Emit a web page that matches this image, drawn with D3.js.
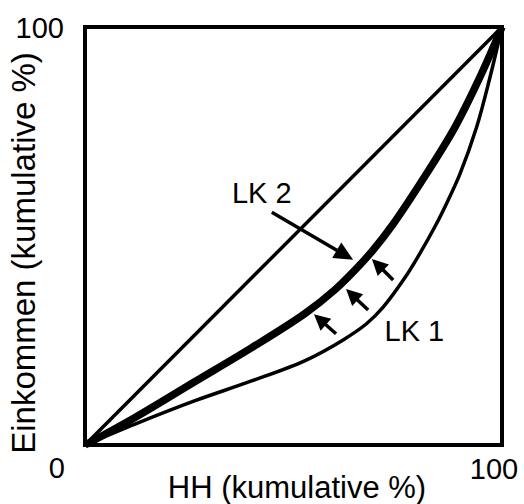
<!DOCTYPE html>
<html>
<head>
<meta charset="utf-8">
<script src="https://cdn.jsdelivr.net/npm/d3@7"></script>
<style>
  html, body { margin: 0; padding: 0; background: #fff; }
  svg { display: block; font-family: "Liberation Sans", Arial, sans-serif; }
</style>
</head>
<body>
<svg id="chart" width="524" height="504"></svg>
<script>
// ---- data ----
const equality = [[0, 0], [100, 100]];
const lk1 = [[0,0],[12,5],[26.4,10.6],[39.6,15.2],[52.8,20.2],[62,25.2],[67.5,29],[71.5,33],[76.7,40],[80,45.3],[83.9,52.2],[87,58.4],[89.9,64.8],[93.9,76],[97,87.5],[100,100]];
const lk2 = [[0,0],[12,6.6],[26.4,15.2],[40,23.3],[52.8,31.5],[60,37.2],[64.5,41.6],[68.8,46.3],[74,53],[81,63.5],[88.7,76],[94.7,88],[100,100]];
const tickLabels = ["0", "100"];
const curveLabels = [{text: "LK 2", x: 42.4, y: 57.9}, {text: "LK 1", x: 79, y: 24.9}];
const bigArrow = {from: [44.8, 55.7], to: [64.3, 44.3]};
const smallArrows = [
  {from: [73.9, 39.5], to: [68.8, 44.5]},
  {from: [67.9, 32.3], to: [62.6, 37.3]},
  {from: [60.2, 26.6], to: [54.9, 31.3]}
];
const xTitle = "HH (kumulative %)";
const yTitle = "Einkommen (kumulative %)";

// ---- layout ----
const margin = {left: 85, top: 27, right: 22, bottom: 59};
const W = 524, H = 504;
const svg = d3.select("#chart");
const x = d3.scaleLinear().domain([0, 100]).range([margin.left, W - margin.right]);
const y = d3.scaleLinear().domain([0, 100]).range([H - margin.bottom, margin.top]);

const line = d3.line().x(d => x(d[0])).y(d => y(d[1])).curve(d3.curveCatmullRom.alpha(0.5));

// frame
svg.append("rect")
  .attr("x", x(0)).attr("y", y(100))
  .attr("width", x(100) - x(0)).attr("height", y(0) - y(100))
  .attr("fill", "none").attr("stroke", "#000").attr("stroke-width", 4);

// curves
svg.append("path").datum(equality).attr("d", line)
  .attr("fill", "none").attr("stroke", "#000").attr("stroke-width", 3.5);
svg.append("path").datum(lk1).attr("d", line)
  .attr("fill", "none").attr("stroke", "#000").attr("stroke-width", 3.5);
svg.append("path").datum(lk2).attr("d", line)
  .attr("fill", "none").attr("stroke", "#000").attr("stroke-width", 7.5);

// arrows
function arrow(a, headLen, headW) {
  const x1 = x(a.from[0]), y1 = y(a.from[1]), x2 = x(a.to[0]), y2 = y(a.to[1]);
  const dx = x2 - x1, dy = y2 - y1, L = Math.hypot(dx, dy);
  const ux = dx / L, uy = dy / L, px = -uy, py = ux;
  const bx = x2 - ux * headLen, by = y2 - uy * headLen;
  svg.append("line")
    .attr("x1", x1).attr("y1", y1).attr("x2", bx + ux * 2).attr("y2", by + uy * 2)
    .attr("stroke", "#000").attr("stroke-width", 3.5);
  svg.append("polygon")
    .attr("points", [[x2, y2], [bx + px * headW / 2, by + py * headW / 2], [bx - px * headW / 2, by - py * headW / 2]].map(p => p.join(",")).join(" "))
    .attr("fill", "#000");
}
arrow(bigArrow, 19, 18);
smallArrows.forEach(a => arrow(a, 16, 16));

// curve labels
svg.selectAll("text.lk").data(curveLabels).enter().append("text")
  .attr("class", "lk")
  .attr("x", d => x(d.x)).attr("y", d => y(d.y))
  .attr("text-anchor", "middle").attr("font-size", 29)
  .text(d => d.text);

// tick labels
svg.append("text").attr("x", x(0) - 20).attr("y", y(0) + 33)
  .attr("text-anchor", "end").attr("font-size", 29).text(tickLabels[0]);
svg.append("text").attr("x", x(0) - 21).attr("y", y(100) + 11)
  .attr("text-anchor", "end").attr("font-size", 29).text(tickLabels[1]);
svg.append("text").attr("x", x(100) - 8).attr("y", y(0) + 34)
  .attr("text-anchor", "middle").attr("font-size", 29).text(tickLabels[1]);

// axis titles
svg.append("text").attr("x", 297).attr("y", 498)
  .attr("text-anchor", "middle").attr("font-size", 31).text(xTitle);
svg.append("text")
  .attr("transform", "translate(35,253) rotate(-90)")
  .attr("text-anchor", "middle").attr("font-size", 33).text(yTitle);
</script>
</body>
</html>
